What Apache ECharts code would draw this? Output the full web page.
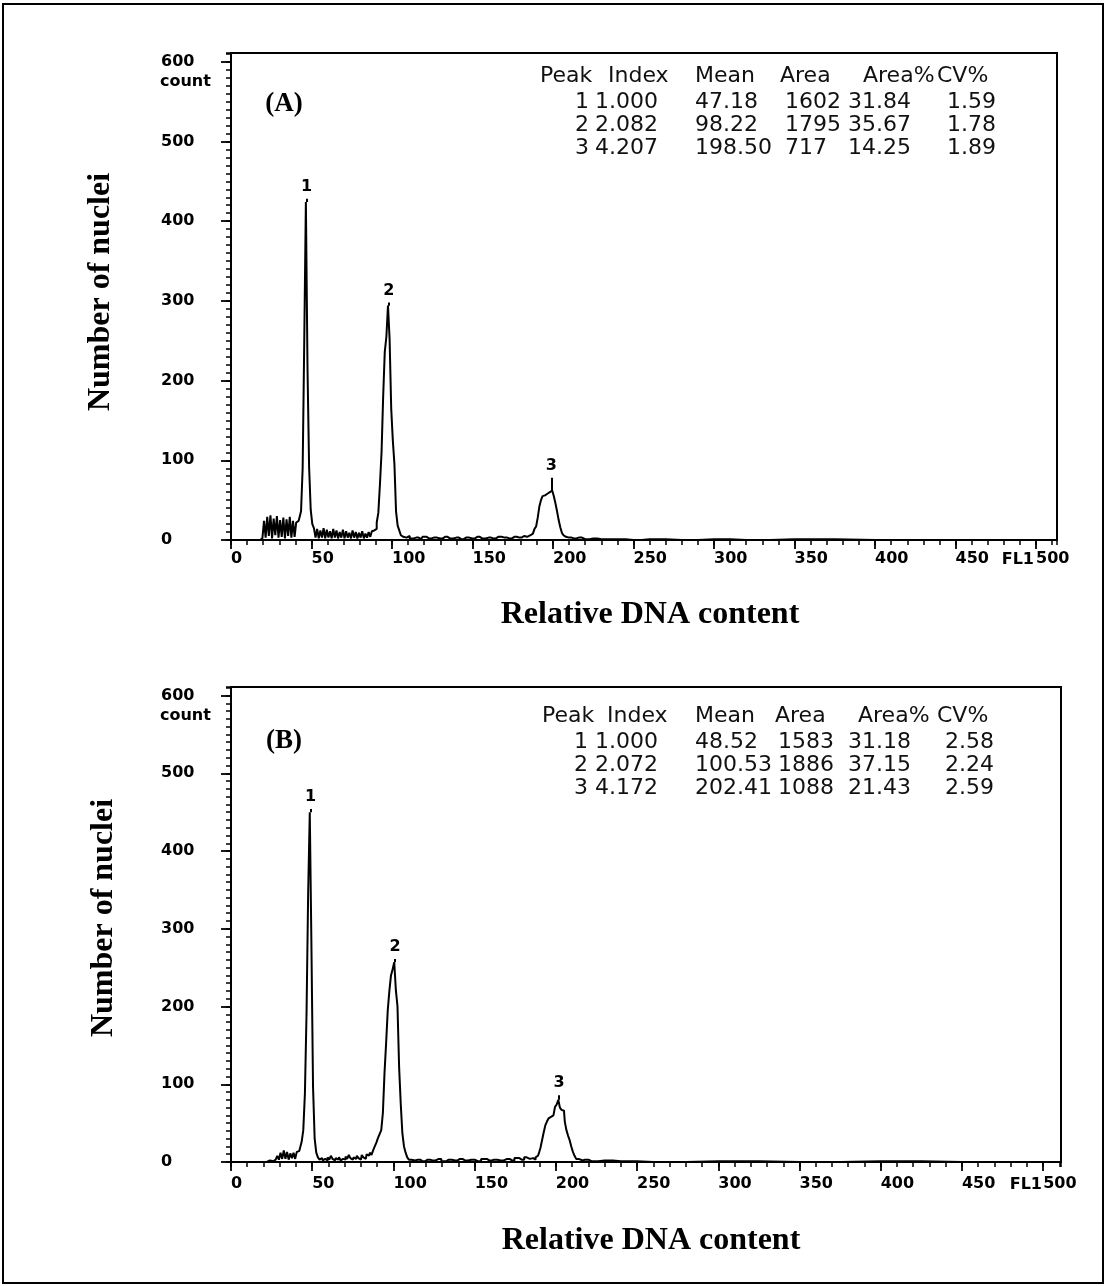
<!DOCTYPE html>
<html>
<head>
<meta charset="utf-8">
<script src="https://cdn.jsdelivr.net/npm/echarts@6/dist/echarts.min.js"></script>
<style>
  html, body { margin: 0; padding: 0; background: #fff; }
  #main { width: 1107px; height: 1286px; }
</style>
</head>
<body>
<div id="main"></div>
<script>
// ---- histogram (A), channel / count
const channelsA = [0, 18, 19, 20,
  21, 22, 23, 24, 25, 26, 27, 28, 29, 30, 31, 32, 33, 34, 35, 36, 37, 38, 39, 40, 41,
  42, 43, 44, 45, 46, 47, 48, 49, 50, 51,
  52, 53, 54, 55, 56, 57, 58, 59, 60, 61, 62, 63, 64, 65, 66, 67, 68, 69, 70, 71, 72, 73, 74, 75,
  76, 77, 78, 79, 80, 81, 82, 83, 84, 85, 86, 87, 88, 89,
  90, 91, 92, 93, 94, 95, 96, 97, 98, 99, 100, 101, 102, 103, 104, 105, 106,
  107, 108, 110, 112, 115, 118, 120, 123, 126, 130, 133, 136, 140, 143, 146, 150, 153, 156, 160,
  163, 166, 170, 173, 176, 179, 182, 184,
  186, 187, 188, 189, 190, 191, 192, 193, 194, 195, 196, 197, 198, 199, 200, 201, 202, 203, 204,
  205, 206, 207, 208, 210, 213, 216, 220, 225, 230, 240, 250, 260, 280, 300, 320, 350, 400, 450, 513];
const countsA = [0, 0, 2, 4,
  24, 3, 29, 5, 31, 2, 27, 6, 30, 3, 25, 4, 28, 2, 26, 5, 29, 3, 24, 4, 22,
  24, 28, 36, 90, 250, 424, 218, 92, 38, 20,
  15, 3, 14, 2, 12, 3, 15, 2, 13, 3, 11, 2, 14, 3, 12, 2, 10, 3, 13, 2, 11, 3, 9, 2,
  12, 3, 10, 2, 9, 3, 11, 2, 8, 3, 10, 4, 11, 12,
  14, 22, 34, 70, 110, 180, 236, 255, 294, 252, 165, 125, 95, 36, 18, 12, 6,
  4, 3, 5, 2, 3, 1, 4, 2, 3, 2, 4, 2, 3, 1, 3, 2, 4, 2, 3,
  2, 4, 3, 2, 4, 3, 5, 4,
  6, 8, 10, 14, 17, 28, 42, 50, 55, 56, 58, 59, 60, 62, 63, 55, 46, 36, 25,
  16, 9, 6, 4, 3, 2, 3, 1, 2, 1, 1, 0, 1, 0, 1, 0, 1, 0, 0, 0];

// ---- histogram (B)
const channelsB = [0, 20, 24, 26, 27, 28, 29, 30, 31, 32, 33, 34, 35, 36, 37, 38, 39, 40, 41,
  42, 43, 44, 45, 46, 47, 48, 49, 50, 51, 52, 53,
  54, 55, 56, 57, 58, 59, 60, 61, 62, 63, 64, 65, 66, 67, 68, 69, 70, 71, 72, 73, 74, 75,
  76, 77, 78, 79, 80, 81, 82, 83, 84, 85, 86, 87, 88,
  89, 90, 91, 92, 93, 94, 95, 96, 97, 98, 99, 100, 101, 102, 103, 104, 105, 106, 107, 108, 109,
  110, 112, 115, 118, 121, 124, 128, 131, 134, 138, 141, 144, 148, 152, 156, 159, 162, 166, 170,
  173, 176, 179, 182, 184, 186, 187,
  188, 189, 190, 191, 192, 193, 194, 195, 196, 197, 198, 199, 200, 201, 202, 203, 204, 205, 206,
  207, 208, 209, 210, 211, 212, 213, 215, 218, 222, 230, 240, 260, 300, 350, 400, 450, 511];
const countsB = [0, 0, 2, 1, 3, 2, 8, 3, 12, 4, 15, 4, 13, 3, 11, 5, 12, 4, 13,
  14, 18, 26, 41, 88, 191, 346, 450, 281, 97, 30, 12,
  6, 3, 5, 2, 4, 2, 6, 3, 8, 4, 2, 5, 3, 6, 2, 4, 3, 7, 4, 9, 5, 3,
  6, 4, 8, 5, 3, 9, 6, 4, 10, 8, 12, 9, 15,
  20, 25, 31, 36, 41, 63, 114, 153, 195, 220, 240, 248, 257, 221, 200, 122, 75, 37, 20, 12, 6,
  3, 2, 3, 1, 3, 2, 4, 1, 3, 2, 4, 2, 3, 1, 4, 2, 3, 2, 4,
  2, 5, 3, 6, 4, 5, 3,
  6, 8, 11, 18, 28, 38, 47, 52, 56, 58, 60, 62, 71, 74, 80, 70, 67, 66, 52,
  41, 34, 28, 20, 13, 8, 4, 2, 3, 1, 2, 1, 0, 1, 0, 1, 0, 0];

// ---- peak markers: channel, histogram top, marker top
const peakNames = ['1', '2', '3'];
const peakChA = [47, 98, 199];
const peakBaseA = [424, 294, 62];
const peakTopA = [428, 298, 78];
const peakChB = [49, 101, 202];
const peakBaseB = [450, 257, 80];
const peakTopB = [454, 261, 86];

// ---- axis tick labels
const xTicks = [0, 50, 100, 150, 200, 250, 300, 350, 400, 450, 500];
const yTicks = [0, 100, 200, 300, 400, 500, 600];

// ---- peak tables
const tableHeader = ['Peak', 'Index', 'Mean', 'Area', 'Area%', 'CV%'];
const peakNo = ['1', '2', '3'];
const indexA = ['1.000', '2.082', '4.207'];
const meanA = ['47.18', '98.22', '198.50'];
const areaA = ['1602', '1795', '717'];
const areaPctA = ['31.84', '35.67', '14.25'];
const cvA = ['1.59', '1.78', '1.89'];
const indexB = ['1.000', '2.072', '4.172'];
const meanB = ['48.52', '100.53', '202.41'];
const areaB = ['1583', '1886', '1088'];
const areaPctB = ['31.18', '37.15', '21.43'];
const cvB = ['2.58', '2.24', '2.59'];

const LABEL_FONT = 'DejaVu Sans';
const SERIF = '"Liberation Serif", "Times New Roman", serif';

function zip(xs, ys) {
  return xs.map((x, i) => [x, ys[i]]);
}

function xAxes(gi, xMax, labelMargin) {
  return [
    {
      gridIndex: gi, type: 'value', position: 'bottom', min: 0, max: xMax, interval: 50,
      axisLine: {show: true, onZero: false, lineStyle: {color: '#000', width: 2}},
      axisTick: {show: true, length: 9, customValues: xTicks, lineStyle: {color: '#000', width: 1.8}},
      axisLabel: {
        show: true, customValues: xTicks, align: 'left', margin: labelMargin,
        fontFamily: LABEL_FONT, fontWeight: 'bold', fontSize: 16, color: '#000',
        formatter: v => (xTicks.indexOf(v) >= 0 ? String(v) : '')
      },
      splitLine: {show: false}
    },
    {
      gridIndex: gi, type: 'value', position: 'bottom', min: 0, max: xMax, interval: 10,
      axisLine: {show: false},
      axisTick: {show: true, length: 5, lineStyle: {color: '#000', width: 1.5}},
      axisLabel: {show: false},
      splitLine: {show: false}
    }
  ];
}

function yAxes(gi, yMax) {
  return [
    {
      gridIndex: gi, type: 'value', position: 'left', min: 0, max: yMax, interval: 100,
      axisLine: {show: true, onZero: false, lineStyle: {color: '#000', width: 2}},
      axisTick: {show: true, length: 10, customValues: yTicks, lineStyle: {color: '#000', width: 1.8}},
      axisLabel: {
        show: true, customValues: yTicks, align: 'left', margin: 70,
        fontFamily: LABEL_FONT, fontWeight: 'bold', fontSize: 16, color: '#000',
        formatter: v => (yTicks.indexOf(v) >= 0 ? String(v) : '')
      },
      splitLine: {show: false}
    },
    {
      gridIndex: gi, type: 'value', position: 'left', min: 0, max: yMax, interval: 10,
      axisLine: {show: false},
      axisTick: {show: true, length: 5, lineStyle: {color: '#000', width: 1.5}},
      axisLabel: {show: false},
      splitLine: {show: false}
    }
  ];
}

function histSeries(axisIdx, chans, counts, peakCh, peakBase, peakTop) {
  return {
    type: 'line',
    xAxisIndex: axisIdx,
    yAxisIndex: axisIdx,
    data: zip(chans, counts),
    step: 'middle',
    showSymbol: false,
    silent: true,
    lineStyle: {color: '#000', width: 2},
    markLine: {
      silent: true,
      symbol: ['none', 'none'],
      lineStyle: {color: '#000', width: 2, type: 'solid'},
      label: {
        show: true, position: 'end', distance: 4, formatter: '{b}',
        fontFamily: LABEL_FONT, fontWeight: 'bold', fontSize: 16, color: '#000'
      },
      data: peakCh.map((c, i) => [
        {coord: [c, peakBase[i]], name: peakNames[i]},
        {coord: [c, peakTop[i]]}
      ])
    }
  };
}

function tableTexts(headerX, headerY, colX, rowY, cols) {
  const out = [];
  const font = '22px "DejaVu Sans"';
  tableHeader.forEach((h, i) => {
    out.push({type: 'text', x: headerX[i], y: headerY,
      style: {text: h, font: font, fill: '#111', textAlign: 'left', textVerticalAlign: 'middle'}});
  });
  cols.forEach((col, ci) => {
    col.forEach((txt, ri) => {
      out.push({type: 'text', x: colX[ci], y: rowY[ri],
        style: {text: txt, font: font, fill: '#111',
          textAlign: ci === 0 ? 'right' : 'left', textVerticalAlign: 'middle'}});
    });
  });
  return out;
}

function txt(x, y, text, font, extra) {
  return Object.assign({type: 'text', x: x, y: y,
    style: {text: text, font: font, fill: '#000', textAlign: 'center', textVerticalAlign: 'middle'}}, extra || {});
}

function leftTxt(x, y, text, font) {
  return {type: 'text', x: x, y: y,
    style: {text: text, font: font, fill: '#000', textAlign: 'left', textVerticalAlign: 'middle'}};
}

function rightTxt(x, y, text, font) {
  return {type: 'text', x: x, y: y,
    style: {text: text, font: font, fill: '#000', textAlign: 'right', textVerticalAlign: 'middle'}};
}

const chart = echarts.init(document.getElementById('main'));

const option = {
  backgroundColor: '#fff',
  animation: false,
  grid: [
    {left: 231, top: 53, width: 826, height: 487, show: true, borderColor: '#000', borderWidth: 2},
    {left: 231, top: 687, width: 830, height: 475, show: true, borderColor: '#000', borderWidth: 2}
  ],
  xAxis: [].concat(xAxes(0, 513, 11), xAxes(1, 511, 14)),
  yAxis: [].concat(yAxes(0, 611), yAxes(1, 611)),
  series: [
    histSeries(0, channelsA, countsA, peakChA, peakBaseA, peakTopA),
    histSeries(2, channelsB, countsB, peakChB, peakBaseB, peakTopB)
  ],
  graphic: [
    {type: 'rect', shape: {x: 3, y: 4, width: 1100, height: 1279},
      style: {fill: 'none', stroke: '#000', lineWidth: 2}},
    // panel letters
    txt(284, 104, '(A)', 'bold 27px ' + SERIF),
    txt(284, 741, '(B)', 'bold 27px ' + SERIF),
    // "count" under 600
    leftTxt(160, 82, 'count', 'bold 16px "DejaVu Sans"'),
    leftTxt(160, 716, 'count', 'bold 16px "DejaVu Sans"'),
    // channel name before the 500 tick
    rightTxt(1034, 560, 'FL1', 'bold 16px "DejaVu Sans"'),
    rightTxt(1042, 1185, 'FL1', 'bold 16px "DejaVu Sans"'),
    // axis titles
    txt(101, 292, 'Number of nuclei', 'bold 32px ' + SERIF, {rotation: Math.PI / 2}),
    txt(104, 918, 'Number of nuclei', 'bold 32px ' + SERIF, {rotation: Math.PI / 2}),
    txt(650, 615, 'Relative DNA content', 'bold 32px ' + SERIF),
    txt(651, 1241, 'Relative DNA content', 'bold 32px ' + SERIF)
  ].concat(
    tableTexts([540, 608, 695, 780, 863, 937], 76, [589, 595, 695, 785, 848, 947], [102.5, 125.5, 148],
      [peakNo, indexA, meanA, areaA, areaPctA, cvA]),
    tableTexts([542, 607, 695, 775, 858, 937], 716.5, [588, 595, 695, 778, 848, 945], [742.5, 765, 788],
      [peakNo, indexB, meanB, areaB, areaPctB, cvB])
  )
};

chart.setOption(option);
</script>
</body>
</html>
